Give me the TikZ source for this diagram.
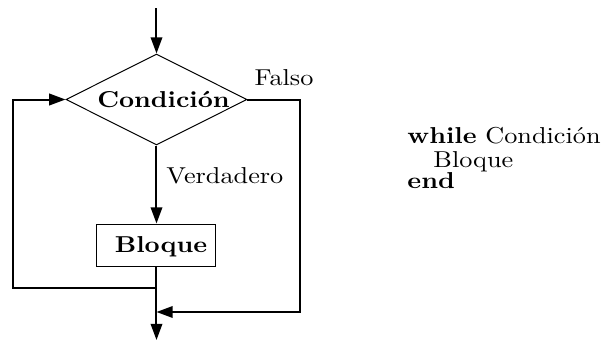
\documentclass[tikz,border=0pt]{standalone}
\usepackage{graphicx}
\usetikzlibrary{shapes.geometric,arrows.meta}
\newcommand\txs[1]{\scalebox{1.05}[0.92]{#1}}
\begin{document}
\begin{tikzpicture}[x=0.4pt,y=-0.4pt,
  flow/.style={line width=0.8pt,-{Triangle[length=6.5pt,width=4.6pt]}},
  plain/.style={line width=0.8pt},
  lbl/.style={inner sep=0pt}]
\useasboundingbox (0,0) rectangle (603,341);
\node[diamond,draw,line width=0.4pt,inner sep=0pt,aspect=2,
  minimum width=72.4pt,minimum height=36.4pt] (cond) at (156.5,99.5) {};
\node[lbl,anchor=base] (condtxt) at (163.5,107) {\txs{\textbf{Condición}}};
\node[draw,line width=0.4pt,inner sep=0pt,minimum width=47.6pt,minimum height=16.8pt]
  (bloque) at (156.5,245) {};
\node[lbl,anchor=base] (bloquetxt) at (161,252) {\txs{\textbf{Bloque}}};
\coordinate (top) at (156.5,8);
\coordinate (bot) at (156.5,340);
\coordinate (ltop) at (13,99.5);
\coordinate (lbot) at (13,287.5);
\coordinate (join) at (156.5,287.5);
\coordinate (rtop) at (300,99.5);
\coordinate (rbot) at (300,312);
\coordinate (merge) at (156.5,312);
\draw[flow] (top) -- (cond.north);
\draw[flow] (cond.south) -- (bloque.north);
\draw[plain] (bloque.south) -- (join);
\draw[flow] (join) -- (bot);
\draw[flow] (join) -- (lbot) -- (ltop) -- (cond.west);
\draw[flow] (cond.east) -- (rtop) -- (rbot) -- (merge);
\node[lbl,anchor=base] (falso) at (284,85.5) {\txs{Falso}};
\node[lbl,anchor=base west] (verd) at (166,183) {\txs{Verdadero}};
\node[lbl,anchor=base west] (w1) at (407,143) {\txs{\textbf{while} Condición}};
\node[lbl,anchor=base west] (w2) at (433,167) {\txs{Bloque}};
\node[lbl,anchor=base west] (w3) at (407,188) {\txs{\textbf{end}}};
\end{tikzpicture}
\end{document}
